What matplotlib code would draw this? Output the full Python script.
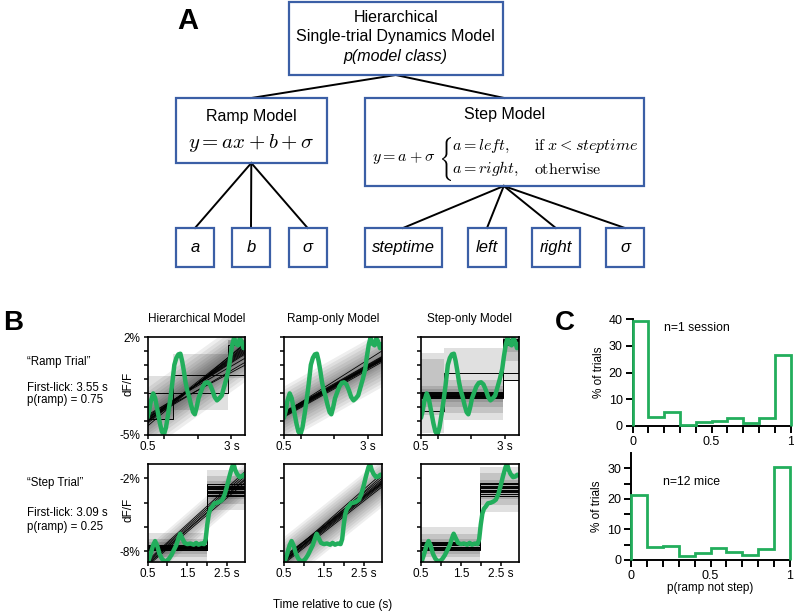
import numpy as np
import matplotlib
matplotlib.use("Agg")
import matplotlib.pyplot as plt
from matplotlib.patches import Rectangle, PathPatch
from matplotlib.textpath import TextPath
from matplotlib.transforms import Affine2D

plt.rcParams['font.family'] = ['Liberation Sans', 'DejaVu Sans']
plt.rcParams['mathtext.fontset'] = 'cm'

# ---------------- data ----------------
ramp_params = ['a', 'b', 'σ']
step_params = ['steptime', 'left', 'right', 'σ']

model_titles = ['Hierarchical Model', 'Ramp-only Model', 'Step-only Model']

# Ramp trial (top row) dF/F trace
ramp_trial_t = [0.50, 0.55, 0.60, 0.67, 0.73, 0.80, 0.87, 0.93, 0.99, 1.05, 1.11, 1.17,
                1.23, 1.30, 1.36, 1.42, 1.48, 1.53, 1.58, 1.63, 1.68, 1.74, 1.80, 1.86,
                1.91, 1.96, 2.02, 2.08, 2.15, 2.22, 2.29, 2.36, 2.43, 2.50, 2.57, 2.64,
                2.71, 2.78, 2.85, 2.92, 2.97, 3.03, 3.08, 3.14, 3.20, 3.25, 3.30, 3.36, 3.42]
ramp_trial_dff = [-3.8, -3.3, -2.6, -2.05, -2.4, -3.3, -4.2, -4.8, -5.0, -4.5, -3.6, -2.6,
                  -1.5, 0.0, 0.5, 0.75, 0.8, 0.3, -0.4, -1.2, -1.8, -2.3, -2.9, -3.4,
                  -3.55, -3.1, -2.4, -2.0, -1.55, -1.3, -1.25, -1.4, -1.8, -2.3, -2.55, -2.4,
                  -2.2, -1.6, -1.0, -0.3, 0.6, 1.5, 1.95, 1.5, 1.4, 1.9, 1.7, 1.2, 1.5]

# Step trial (bottom row) dF/F trace
step_trial_t = [0.52, 0.58, 0.64, 0.69, 0.74, 0.80, 0.86, 0.92, 0.98, 1.04, 1.10, 1.16,
                1.22, 1.28, 1.32, 1.37, 1.43, 1.50, 1.58, 1.66, 1.72, 1.78, 1.85, 1.92,
                1.96, 2.00, 2.04, 2.08, 2.13, 2.18, 2.25, 2.32, 2.38, 2.44, 2.50, 2.56,
                2.62, 2.66, 2.70, 2.75, 2.81, 2.87, 2.92, 2.96]
step_trial_dff = [-8.8, -8.2, -7.5, -7.15, -7.5, -8.2, -8.6, -8.8, -8.8, -8.6, -8.3, -7.9,
                  -7.5, -6.9, -6.55, -6.9, -7.3, -7.4, -7.35, -7.45, -7.3, -7.45, -7.35, -7.4,
                  -7.0, -5.8, -4.9, -4.5, -4.3, -4.05, -4.0, -3.9, -3.75, -3.3, -2.6, -1.8,
                  -1.1, -0.8, -1.3, -1.65, -1.9, -1.85, -1.7, -1.75]

# Posterior ramp samples: value at start and end of window
TH_ramp_start = [-4.4, -4.2, -4.1, -4.0, -3.9, -3.85, -3.8, -3.7, -3.6, -3.95, -4.05, -3.75]
TH_ramp_end = [1.6, 1.4, 1.3, 1.2, 1.1, 1.0, 0.9, 0.8, 0.5, 0.2, 1.5, 0.0]
TR_ramp_start = [-3.75, -3.7, -3.65, -3.6, -3.55, -3.5, -3.45, -3.4, -3.35, -3.6, -3.5, -3.45]
TR_ramp_end = [0.2, 0.3, 0.35, 0.4, 0.45, 0.5, 0.55, 0.6, 0.3, 0.45, 0.4, 1.0]
BH_ramp_start = [-9.2, -9.05, -8.95, -8.85, -9.1, -8.75]
BH_ramp_end = [-2.3, -2.0, -1.8, -1.6, -2.1, -1.4]
BR_ramp_start = [-9.0, -8.9, -8.8, -8.75, -8.7, -8.6, -8.5, -8.85, -8.65, -8.4]
BR_ramp_end = [-2.7, -2.55, -2.45, -2.35, -2.25, -2.15, -2.0, -1.8, -1.6, -2.4]

# Posterior step samples: left level, right level, step time
TH_step_left = [-3.9, -2.04]
TH_step_right = [-0.7, 1.45]
TH_step_time = [1.26, 2.9]
TS_step_left = [-1.95, -2.05, -2.1, -2.15, -2.2, -2.25, -2.3, -2.4, -3.3, -2.2]
TS_step_right = [1.85, 1.75, 1.7, 1.6, 1.5, 1.8, 1.65, 1.4, -0.55, -1.1]
TS_step_time = [2.95, 2.95, 2.95, 2.95, 2.95, 2.95, 2.95, 2.95, 1.18, 2.95]
BH_step_left = [-7.5, -7.6, -7.65, -7.7, -7.75, -7.8, -7.85, -7.9, -7.55, -7.7]
BH_step_right = [-2.45, -2.6, -2.75, -2.9, -3.0, -3.1, -3.2, -3.35, -3.45, -2.8]
BH_step_time = [2.0] * 10
BS_step_left = [-7.2, -7.3, -7.4, -7.5, -7.6, -7.7, -7.8, -7.9, -7.45, -7.65]
BS_step_right = [-2.35, -2.5, -2.65, -2.8, -2.95, -3.1, -3.25, -3.45, -2.7, -3.0]
BS_step_time = [1.98] * 10

# Credible regions of the step fits: (t0, t1, low, high)
TH_step_regions = [(0.5, 1.26, -3.96, -0.79), (1.26, 2.9, -3.24, 0.8),
                   (2.9, 3.42, -0.96, 1.8), (2.9, 3.42, 0.6, 1.8)]
TS_step_regions = [(0.5, 1.18, -4.9, 0.88), (0.5, 1.18, -3.6, 0.4),
                   (1.18, 2.95, -3.96, 1.2), (1.18, 2.95, -3.48, -1.08),
                   (0.5, 2.95, -3.0, -1.5), (0.5, 2.95, -2.7, -1.7),
                   (2.95, 3.42, -1.1, 2.0), (2.95, 3.42, 0.3, 2.0), (2.95, 3.42, 0.9, 2.0)]
BH_step_regions = [(0.5, 2.0, -8.83, -6.5), (0.5, 2.0, -8.5, -7.0), (0.5, 2.0, -8.2, -7.2),
                   (2.0, 2.96, -4.6, -1.3), (2.0, 2.96, -4.1, -1.8), (2.0, 2.96, -3.7, -2.2)]
BS_step_regions = [(0.5, 1.98, -8.83, -6.0), (0.5, 1.98, -8.5, -6.6), (0.5, 1.98, -8.2, -7.0),
                   (1.98, 2.96, -4.8, -1.1), (1.98, 2.96, -4.2, -1.6), (1.98, 2.96, -3.7, -2.1)]

# Credible bands of the ramp fits: centre at start, centre at end, half widths
TH_band = (-3.9, 1.15, [2.3, 2.0, 1.7, 1.45, 1.2, 1.0, 0.8, 0.6, 0.4, 0.25])
TR_band = (-3.5, 0.45, [2.0, 1.75, 1.5, 1.25, 1.0, 0.8, 0.6, 0.45, 0.3, 0.15])
BH_band = (-9.0, -2.0, [1.4, 1.15, 0.9, 0.65, 0.4])
BR_band = (-8.75, -2.3, [2.0, 1.75, 1.5, 1.25, 1.0, 0.8, 0.6, 0.45, 0.3, 0.15])

# Panel C histograms
bin_edges = [0.0, 0.1, 0.2, 0.3, 0.4, 0.5, 0.6, 0.7, 0.8, 0.9, 1.0]
hist_session = [39.2, 3.5, 5.4, 0.4, 1.4, 2.0, 3.1, 1.2, 2.9, 26.5]
hist_mice = [21.3, 4.1, 4.6, 1.3, 2.4, 4.0, 2.7, 1.5, 3.6, 30.5]

# ---------------- figure ----------------
W, H = 794, 615
fig = plt.figure(figsize=(W / 100, H / 100), dpi=100)
GREEN = '#22ae5c'
BLUE = '#3b5fa6'


def px_rect(l, t, r, b):
    return [l / W, 1 - b / H, (r - l) / W, (b - t) / H]


ax0 = fig.add_axes([0, 0, 1, 1])
ax0.set_xlim(0, W)
ax0.set_ylim(H, 0)
ax0.axis('off')

# ---- Panel A ----
def box(l, t, r, b):
    ax0.add_patch(Rectangle((l, t), r - l, b - t, fill=False, ec=BLUE, lw=1.6, zorder=3))

top_box = (288.6, 1.5, 502.8, 75)
ramp_box = (176, 98, 326.6, 163)
step_box = (364.6, 98, 644, 186)
ramp_leaves = [(176, 228, 214, 267), (232, 228, 270, 267), (288.6, 228, 326.6, 267)]
step_leaves = [(364.6, 228, 441.5, 267), (468, 228, 506, 267), (531.6, 228, 580, 267),
               (606, 228, 644, 267)]

for bx in [top_box, ramp_box, step_box] + ramp_leaves + step_leaves:
    box(*bx)

lk = dict(color='k', lw=1.4, zorder=2)
ax0.plot([395.7, 251.3], [75, 98], **lk)
ax0.plot([395.7, 504.3], [75, 98], **lk)
for (l, t, r, b) in ramp_leaves:
    ax0.plot([251.3, (l + r) / 2], [163, t], **lk)
for (l, t, r, b) in step_leaves:
    ax0.plot([503.8, (l + r) / 2], [186, t], **lk)

ax0.text(177, 21, 'A', fontsize=21, fontweight='bold', ha='left', va='center')
ax0.text(395.7, 18, 'Hierarchical', fontsize=11.5, ha='center', va='center')
ax0.text(395.7, 37, 'Single-trial Dynamics Model', fontsize=11.5, ha='center', va='center')
ax0.text(395.7, 56, 'p(model class)', fontsize=11.5, style='italic', ha='center', va='center')
ax0.text(251.3, 117, 'Ramp Model', fontsize=11.5, ha='center', va='center')
ax0.text(251.3, 143, r'$y = ax + b + \sigma$', fontsize=15, ha='center', va='center')
ax0.text(504.3, 115, 'Step Model', fontsize=11.5, ha='center', va='center')
ax0.text(372, 158, r'$y = a + \sigma$', fontsize=11.5, ha='left', va='center')
ax0.text(452, 146, r'$a = left,$', fontsize=11.5, ha='left', va='center')
ax0.text(452, 169, r'$a = right,$', fontsize=11.5, ha='left', va='center')
ax0.text(534, 146, r'$\mathrm{if}\ x < steptime$', fontsize=11.5, ha='left', va='center')
ax0.text(534, 169, r'$\mathrm{otherwise}$', fontsize=11.5, ha='left', va='center')
# curly brace
tp = TextPath((0, 0), r'$\{$', size=1)
bb = tp.get_extents()
tr = Affine2D().translate(-bb.x0, -bb.y0).scale(9 / bb.width, -44 / bb.height).translate(442, 181)
ax0.add_patch(PathPatch(tr.transform_path(tp), fc='k', ec='none'))

for (l, t, r, b), name in zip(ramp_leaves + step_leaves, ramp_params + step_params):
    ax0.text((l + r) / 2, (t + b) / 2, name, fontsize=12, style='italic', ha='center', va='center')

# ---- Panel B ----
ax0.text(3, 323, 'B', fontsize=20, fontweight='bold', ha='left', va='center')
ax0.text(27, 362, '\u201cRamp Trial\u201d', fontsize=8.3, ha='left', va='center')
ax0.text(27, 388, 'First-lick: 3.55 s', fontsize=8.3, ha='left', va='center')
ax0.text(27, 400, 'p(ramp) = 0.75', fontsize=8.3, ha='left', va='center')
ax0.text(27, 483, '\u201cStep Trial\u201d', fontsize=8.3, ha='left', va='center')
ax0.text(27, 513, 'First-lick: 3.09 s', fontsize=8.3, ha='left', va='center')
ax0.text(27, 527, 'p(ramp) = 0.25', fontsize=8.3, ha='left', va='center')
ax0.text(128, 384, 'dF/F', fontsize=8.5, rotation=90, ha='center', va='center')
ax0.text(128, 510, 'dF/F', fontsize=8.5, rotation=90, ha='center', va='center')
ax0.text(333, 605, 'Time relative to cue (s)', fontsize=8.5, ha='center', va='center')

col_l = [147.5, 284, 421]
col_w = 98


def draw_panel(ax, xlim, ylim, regions, band, ramp_s, ramp_e, st_l, st_r, st_t, tx, ty):
    x0, x1 = xlim
    for (a, b, lo, hi) in regions:
        ax.fill_between([a, b], [lo, lo], [hi, hi], color='k', alpha=0.12, lw=0, zorder=1)
    if band is not None:
        c0, c1, hws = band
        for hw in hws:
            ax.fill_between([x0, x1], [c0 - hw, c1 - hw], [c0 + hw, c1 + hw],
                            color='k', alpha=0.065, lw=0, zorder=1)
    for s, e in zip(ramp_s, ramp_e):
        ax.plot([x0, x1], [s, e], color='k', lw=0.6, zorder=2)
    for l, r, t in zip(st_l, st_r, st_t):
        ax.plot([x0, t, t, x1], [l, l, r, r], color='k', lw=0.7, zorder=2)
    ax.plot(tx, ty, color=GREEN, lw=3.2, zorder=4, solid_capstyle='round', solid_joinstyle='round')
    ax.set_xlim(*xlim)
    ax.set_ylim(*ylim)
    for sp in ax.spines.values():
        sp.set_linewidth(1.2)
        sp.set_zorder(5)
    ax.tick_params(direction='out', length=3, width=1.1, labelsize=8.5, pad=2)


top_specs = [
    (TH_step_regions, TH_band, TH_ramp_start, TH_ramp_end, TH_step_left, TH_step_right, TH_step_time),
    ([], TR_band, TR_ramp_start, TR_ramp_end, [], [], []),
    (TS_step_regions, None, [], [], TS_step_left, TS_step_right, TS_step_time),
]
bot_specs = [
    (BH_step_regions, BH_band, BH_ramp_start, BH_ramp_end, BH_step_left, BH_step_right, BH_step_time),
    ([], BR_band, BR_ramp_start, BR_ramp_end, [], [], []),
    (BS_step_regions, None, [], [], BS_step_left, BS_step_right, BS_step_time),
]

for i in range(3):
    ax = fig.add_axes(px_rect(col_l[i], 337, col_l[i] + col_w, 434.5))
    draw_panel(ax, (0.5, 3.42), (-5, 2), *top_specs[i], ramp_trial_t, ramp_trial_dff)
    ax.set_xticks([0.5, 1, 2, 3])
    ax.set_xticklabels(['0.5', '', '', '3 s'])
    ax.set_yticks([2, 1, 0, -1, -2, -3, -4, -5])
    if i == 0:
        ax.set_yticklabels(['2%', '', '', '', '', '', '', '-5%'])
    else:
        ax.set_yticklabels([])
    ax.set_title(model_titles[i], fontsize=8.5, pad=11)

    ax = fig.add_axes(px_rect(col_l[i], 463.5, col_l[i] + col_w, 561.5))
    draw_panel(ax, (0.5, 2.96), (-8.83, -0.78), *bot_specs[i], step_trial_t, step_trial_dff)
    ax.set_xticks([0.5, 1, 1.5, 2, 2.5])
    ax.set_xticklabels(['0.5', '', '1.5', '', '2.5 s'])
    ax.set_yticks([-2, -4, -6, -8])
    if i == 0:
        ax.set_yticklabels(['-2%', '', '', '-8%'])
    else:
        ax.set_yticklabels([])

# ---- Panel C ----
ax0.text(555, 323, 'C', fontsize=20, fontweight='bold', ha='left', va='center')


def hist_panel(rect, vals, ylim, yticks, ylabels, note, note_y):
    ax = fig.add_axes(rect)
    ax.stairs(vals, bin_edges, baseline=0, color=GREEN, lw=2, zorder=3, clip_on=False)
    ax.set_xlim(0, 1)
    ax.set_ylim(*ylim)
    for s in ['top', 'right']:
        ax.spines[s].set_visible(False)
    for s in ['left', 'bottom']:
        ax.spines[s].set_linewidth(1.4)
    ax.set_xticks(bin_edges)
    ax.set_xticklabels(['0', '', '', '', '', '0.5', '', '', '', '', '1'])
    ax.set_yticks(yticks)
    ax.set_yticklabels(ylabels)
    ax.tick_params(direction='out', length=5, width=1.4, labelsize=9, pad=2)
    ax.set_ylabel('% of trials', fontsize=8.5, labelpad=3)
    ax.text(0.2, note_y, note, fontsize=8.8, ha='left', va='center')
    return ax


hist_panel(px_rect(632.5, 319, 790.5, 426), hist_session, (0, 40),
           [0, 10, 20, 30, 40], ['0', '10', '20', '30', '40'], 'n=1 session', 36.5)
axc = hist_panel(px_rect(631, 453, 790, 560), hist_mice, (0, 35),
                 [0, 5, 10, 15, 20, 25, 30], ['0', '', '10', '', '20', '', '30'], 'n=12 mice', 25.5)
axc.set_xlabel('p(ramp not step)', fontsize=8.5, labelpad=0)

fig.savefig('out.png', dpi=100)
